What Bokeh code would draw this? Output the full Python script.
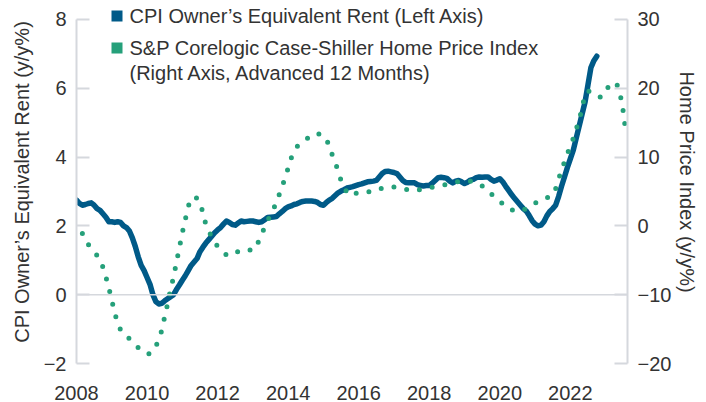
from bokeh.plotting import figure
from bokeh.models import (Range1d, LinearAxis, Span, Label, BoxAnnotation,
                          FixedTicker, ColumnDataSource)
from bokeh.embed import file_html
from bokeh.resources import INLINE

# ---------------- data ----------------
# CPI Owner's Equivalent Rent, y/y %, monthly from Jan 2008 (left axis)
oer_start_year = 2008
oer_start_month = 1
oer_values = [
    2.75, 2.65, 2.60, 2.62, 2.65, 2.67, 2.60, 2.50, 2.45, 2.35, 2.25, 2.12,   # 2008
    2.12, 2.10, 2.12, 2.10, 2.00, 1.95, 1.85, 1.65, 1.40, 1.10, 0.85, 0.70,   # 2009
    0.50, 0.30, 0.00, -0.20, -0.27, -0.25, -0.18, -0.12, -0.06, 0.00, 0.15, 0.28,  # 2010
    0.42, 0.55, 0.70, 0.85, 0.95, 1.05, 1.25, 1.38, 1.50, 1.60, 1.70, 1.80,   # 2011
    1.88, 1.95, 2.05, 2.14, 2.10, 2.04, 2.02, 2.08, 2.14, 2.12, 2.13, 2.14,   # 2012
    2.14, 2.12, 2.10, 2.12, 2.18, 2.24, 2.25, 2.26, 2.27, 2.35, 2.42, 2.50,   # 2013
    2.55, 2.58, 2.62, 2.64, 2.68, 2.71, 2.72, 2.72, 2.72, 2.71, 2.68, 2.62,   # 2014
    2.60, 2.68, 2.75, 2.80, 2.88, 2.96, 3.01, 3.05, 3.10, 3.12, 3.14, 3.17,   # 2015
    3.20, 3.22, 3.25, 3.28, 3.29, 3.30, 3.32, 3.42, 3.52, 3.58, 3.59, 3.57,   # 2016
    3.55, 3.52, 3.42, 3.32, 3.26, 3.25, 3.25, 3.25, 3.20, 3.17, 3.16, 3.17,   # 2017
    3.17, 3.24, 3.32, 3.40, 3.41, 3.40, 3.38, 3.30, 3.25, 3.30, 3.32, 3.28,   # 2018
    3.23, 3.27, 3.33, 3.35, 3.40, 3.42, 3.41, 3.42, 3.42, 3.35, 3.30, 3.33,   # 2019
    3.37, 3.28, 3.15, 3.03, 2.91, 2.80, 2.70, 2.60, 2.50, 2.43, 2.30, 2.15,   # 2020
    2.05, 2.00, 2.02, 2.12, 2.29, 2.42, 2.50, 2.60, 2.85, 3.15, 3.42, 3.70,   # 2021
    3.95, 4.20, 4.55, 4.90, 5.25, 5.60, 6.10, 6.60, 6.80, 6.93,               # 2022
]

# S&P CoreLogic Case-Shiller Home Price Index, y/y %, advanced 12 months,
# monthly from Mar 2008 (right axis)
hpi_start_year = 2008
hpi_start_month = 3
hpi_values = [
    -1.1, -2.0, -2.7, -3.3, -3.8, -4.3, -5.0, -6.0, -7.4, -9.0,              # 2008 (Mar-Dec)
    -10.8, -12.6, -14.2, -15.1, -15.7, -16.1, -16.4, -16.7, -17.2, -17.7, -18.1, -18.4,  # 2009
    -18.6, -18.6, -18.2, -17.5, -16.5, -15.2, -13.2, -11.3, -9.2, -7.5, -5.3, -3.2,      # 2010
    -1.0, 0.9, 2.8, 4.0, 4.2, 4.0, 3.4, 1.9, 0.2, -0.8, -1.6, -2.3,          # 2011
    -3.0, -3.5, -3.9, -4.2, -4.35, -4.2, -4.0, -3.7, -3.5, -3.4, -3.4, -3.5, # 2012
    -3.6, -3.1, -2.2, -1.2, -0.2, 0.8, 1.5, 2.5, 3.3, 4.6, 5.8, 7.0,         # 2013
    8.4, 9.8, 10.9, 11.5, 11.9, 12.2, 12.5, 12.9, 13.3, 13.4, 13.4, 13.3,    # 2014
    13.2, 12.6, 11.6, 10.3, 9.3, 7.9, 6.6, 5.6, 4.9, 4.4, 4.5, 4.7,          # 2015
    4.9, 4.95, 4.95, 4.95, 4.95, 4.95, 5.1, 5.3, 5.5, 5.6, 5.7, 5.7,         # 2016
    5.65, 5.6, 5.5, 5.4, 5.3, 5.2, 5.1, 5.1, 5.2, 5.3, 5.4, 5.5,             # 2017
    5.55, 5.6, 5.7, 5.8, 5.85, 5.95, 6.05, 6.15, 6.25, 6.35, 6.45, 6.5,      # 2018
    6.5, 6.55, 6.5, 6.45, 6.35, 6.1, 5.8, 5.5, 5.2, 4.7, 4.25, 3.9,          # 2019
    3.6, 3.2, 2.75, 2.5, 2.35, 2.2, 2.1, 2.1, 2.3, 2.5, 2.75, 3.0,           # 2020
    3.3, 3.6, 3.85, 4.0, 4.1, 4.2, 4.5, 5.4, 6.8, 8.1, 9.3, 10.5,            # 2021
    11.6, 12.7, 14.1, 15.3, 17.2, 19.0, 19.6, 19.5, 19.3, 18.9, 18.7, 18.8,  # 2022
    19.4, 20.3, 20.8, 20.85, 20.4, 19.0, 16.6, 13.2,                         # 2023 (Jan-Aug)
]

x_ticks = [2008, 2010, 2012, 2014, 2016, 2018, 2020, 2022]
left_ticks = [-2, 0, 2, 4, 6, 8]
right_ticks = [-20, -10, 0, 10, 20, 30]

oer_label = "CPI Owner\u2019s Equivalent Rent (Left Axis)"
hpi_label_1 = "S&P Corelogic Case-Shiller Home Price Index"
hpi_label_2 = "(Right Axis, Advanced 12 Months)"
left_title = "CPI Owner\u2019s Equivalent Rent (y/y%)"
right_title = "Home Price Index (y/y%)"

# ---------------- build ----------------
def month_x(y0, m0, n):
    return [y0 + (m0 - 1 + i) / 12.0 for i in range(n)]

oer_src = ColumnDataSource(dict(x=month_x(oer_start_year, oer_start_month, len(oer_values)),
                                y=oer_values))
hpi_src = ColumnDataSource(dict(x=month_x(hpi_start_year, hpi_start_month, len(hpi_values)),
                                y=hpi_values))

BLUE = "#005a88"
GREEN = "#25a07a"
GRID = "#d5d8dd"
TXT = "#333333"
FONT = "Liberation Sans"

# frame spans the full top of the canvas so the legend is not clipped;
# extra headroom above the top tick equals 19 px
FRAME_H = 365
TOP_PAD_PX = 19
l_lo, l_hi = left_ticks[0], left_ticks[-1]
r_lo, r_hi = right_ticks[0], right_ticks[-1]
l_end = l_hi + (l_hi - l_lo) * TOP_PAD_PX / (FRAME_H - TOP_PAD_PX)
r_end = r_hi + (r_hi - r_lo) * TOP_PAD_PX / (FRAME_H - TOP_PAD_PX)

p = figure(width=706, height=402, output_backend="svg", toolbar_location=None,
           x_range=Range1d(2008, 2023.62), y_range=Range1d(l_lo, l_end),
           min_border_left=76, min_border_right=79, min_border_top=0,
           min_border_bottom=37)
p.outline_line_color = None
p.grid.visible = False
p.background_fill_color = "white"
p.border_fill_color = "white"
p.extra_y_ranges = {"hpi": Range1d(r_lo, r_end)}

# zero reference line
p.add_layout(Span(location=0, dimension="width", line_color=GRID, line_width=1.5))

p.line("x", "y", source=oer_src, line_color=BLUE, line_width=5.5,
       line_join="round", line_cap="round")
p.line("x", "y", source=hpi_src, y_range_name="hpi", line_color=GREEN,
       line_width=5, line_dash="0 13", line_cap="round")

# axes styling
def style_y(ax, ticks):
    ax.ticker = FixedTicker(ticks=ticks)
    ax.bounds = (ticks[0], ticks[-1])
    ax.axis_line_color = GRID
    ax.axis_line_width = 2
    ax.major_tick_line_color = GRID
    ax.major_tick_line_width = 2
    ax.major_tick_in = 13
    ax.major_tick_out = 0
    ax.minor_tick_line_color = None
    ax.major_label_text_font = FONT
    ax.major_label_text_font_size = "20px"
    ax.major_label_text_color = TXT
    ax.major_label_standoff = 10
    ax.axis_label_text_font = FONT
    ax.axis_label_text_font_size = "20px"
    ax.axis_label_text_font_style = "normal"
    ax.axis_label_text_color = TXT
    ax.axis_label_standoff = 8

ly = p.yaxis[0]
style_y(ly, left_ticks)
ly.axis_label = left_title

ry = LinearAxis(y_range_name="hpi")
style_y(ry, right_ticks)
ry.axis_label = right_title
ry.axis_label_standoff = 2
p.add_layout(ry, "right")

xa = p.xaxis[0]
xa.ticker = FixedTicker(ticks=x_ticks)
xa.axis_line_color = None
xa.major_tick_line_color = None
xa.minor_tick_line_color = None
xa.major_label_text_font = FONT
xa.major_label_text_font_size = "20px"
xa.major_label_text_color = TXT
xa.major_label_standoff = 16

# legend (frame-relative screen units)
p.add_layout(BoxAnnotation(left=35, right=46, bottom=342, top=353,
                           left_units="screen", right_units="screen",
                           bottom_units="screen", top_units="screen",
                           fill_color=BLUE, fill_alpha=1, line_color=None))
p.add_layout(BoxAnnotation(left=35, right=46, bottom=310, top=321,
                           left_units="screen", right_units="screen",
                           bottom_units="screen", top_units="screen",
                           fill_color=GREEN, fill_alpha=1, line_color=None))
for txt, yy in [(oer_label, 347.5), (hpi_label_1, 316), (hpi_label_2, 291)]:
    p.add_layout(Label(x=53, y=yy, x_units="screen", y_units="screen", text=txt,
                       text_baseline="middle", text_align="left",
                       text_font=FONT, text_font_size="20px", text_color=TXT))

open("out.html", "w").write(file_html(p, INLINE))
